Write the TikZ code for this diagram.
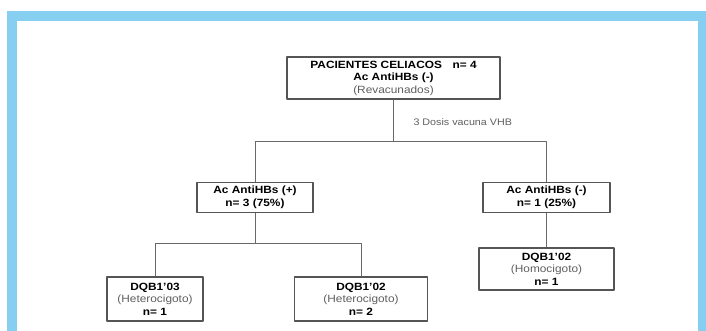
\documentclass[tikz,border=0pt]{standalone}
\usepackage{fontspec}
\setmainfont[FakeStretch=1.13]{Liberation Sans}
\definecolor{framesky}{RGB}{135,207,240}
\definecolor{boxgray}{RGB}{85,85,85}
\definecolor{linegray}{RGB}{105,105,105}
\definecolor{notegray}{RGB}{95,95,95}
\begin{document}
\begin{tikzpicture}[x=1pt,y=-1pt, line join=round,
		font=\fontsize{10.5}{12.5}\selectfont,
		box/.style={draw=boxgray, line width=1.1pt, fill=white, align=center, inner sep=0pt},
		link/.style={draw=linegray, line width=0.9pt},
		note/.style={text=notegray, font=\fontsize{9.5}{12}\selectfont}]
	\useasboundingbox (0,0) rectangle (706,331);
	\clip (0,0) rectangle (706,331);
	% blue frame
	\fill[framesky] (7,11) rectangle (706,340);
	\fill[white] (17,21) rectangle (698,340);
	\node[box, minimum width=213, minimum height=42] (celiac) at (393.5,78)
		{\textbf{PACIENTES CELIACOS\quad n= 4}\\ \textbf{Ac AntiHBs (-)}\\ \textcolor{notegray}{(Revacunados)}};
	\node[box, minimum width=116, minimum height=30] (pos) at (255,197.5)
		{\textbf{Ac AntiHBs (+)}\\ \textbf{n= 3 (75\%)}};
	\node[box, minimum width=127, minimum height=30] (neg) at (546.5,197.5)
		{\textbf{Ac AntiHBs (-)}\\ \textbf{n= 1 (25\%)}};
	\node[box, minimum width=96, minimum height=44] (het3) at (155,299)
		{\textbf{DQB1'03}\\ \textcolor{notegray}{(Heterocigoto)}\\ \textbf{n= 1}};
	\node[box, minimum width=133, minimum height=44] (het2) at (361,299)
		{\textbf{DQB1'02}\\ \textcolor{notegray}{(Heterocigoto)}\\ \textbf{n= 2}};
	\node[box, minimum width=135, minimum height=42] (hom2) at (546.5,269)
		{\textbf{DQB1'02}\\ \textcolor{notegray}{(Homocigoto)}\\ \textbf{n= 1}};
	\path (celiac.south) ++(0,42) coordinate (fork);
	\draw[link] (celiac.south) -- (fork);
	\draw[link] (pos.north) |- (fork) -| (neg.north);
	\node[note, anchor=west] (dose) at (410,122) {3 Dosis vacuna VHB};
	\path (pos.south) ++(0,30) coordinate (forkL);
	\draw[link] (pos.south) -- (forkL);
	\draw[link] (het3.north) |- (forkL) -| (het2.north);
	\draw[link] (neg.south) -- (hom2.north);
\end{tikzpicture}
\end{document}
